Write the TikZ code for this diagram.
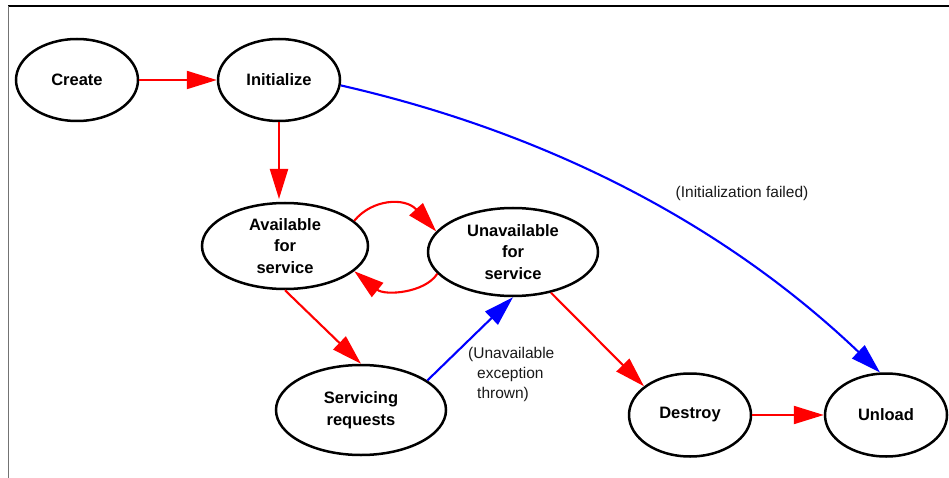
\documentclass[tikz,border=0pt]{standalone}
\usepackage{fontspec}
\setmainfont{Liberation Sans}
\usetikzlibrary{arrows.meta,shapes.geometric}
\definecolor{ered}{RGB}{255,0,0}
\definecolor{eblue}{RGB}{0,0,255}
\tikzset{
  state/.style={ellipse, draw=black, line width=2.5pt, inner sep=0pt, align=center,
    font=\fontsize{16.5}{21.5}\selectfont\bfseries},
  redarrow/.style={draw=ered, line width=2.1pt, -{Triangle[length=30pt,width=18pt]}},
  bluearrow/.style={draw=eblue, line width=2.1pt, -{Triangle[length=30pt,width=18pt]}},
  edgelabel/.style={font=\fontsize{15.5}{20}\selectfont, text=black!90, inner sep=0pt}
}
\begin{document}
\begin{tikzpicture}[x=1pt,y=-1pt]
\useasboundingbox (0,0) rectangle (949,478);
% frame
\draw[black, line width=1.5pt] (8,6) -- (949,6);
\draw[black!55, line width=1.5pt] (8.5,6) -- (8.5,478);
% nodes
\node[state, minimum width=122pt, minimum height=82pt] (create) at (77,80) {Create};
\node[state, minimum width=122pt, minimum height=82pt] (init) at (279,80) {Initialize};
\node[state, minimum width=166pt, minimum height=86pt] (avail) at (285,246) {Available\\for\\service};
\node[state, minimum width=170pt, minimum height=88pt] (unavail) at (513,252) {Unavailable\\for\\service};
\node[state, minimum width=170pt, minimum height=90pt] (serv) at (361,410) {Servicing\\requests};
\node[state, minimum width=122pt, minimum height=83pt] (destroy) at (690,415) {Destroy};
\node[state, minimum width=122pt, minimum height=83pt] (unload) at (886,415) {Unload};
% edges
\draw[redarrow] (create) -- (init);
\draw[redarrow] (init.south) -- (init.south |- 0,199);
\draw[redarrow] (avail.20) .. controls (372,199) and (405,197) .. (unavail.165);
\draw[redarrow] (unavail.196) .. controls (425,293) and (385,296) .. (avail.340);
\draw[redarrow] (avail.south) -- (serv.north);
\draw[bluearrow] (serv.24) -- (unavail.south);
\draw[redarrow] (unavail.313) -- (destroy.148);
\draw[redarrow] (destroy) -- (unload);
\draw[bluearrow] (init.-5) .. controls (541,131) and (720,220) .. (unload.98);
% labels
\node[edgelabel] (lblinit) at (742,193) {(Initialization failed)};
\node[edgelabel, anchor=north west, align=left] (lblunav) at (468,347) {(Unavailable\\\hspace{9pt}exception\\\hspace{9pt}thrown)};
\end{tikzpicture}
\end{document}
